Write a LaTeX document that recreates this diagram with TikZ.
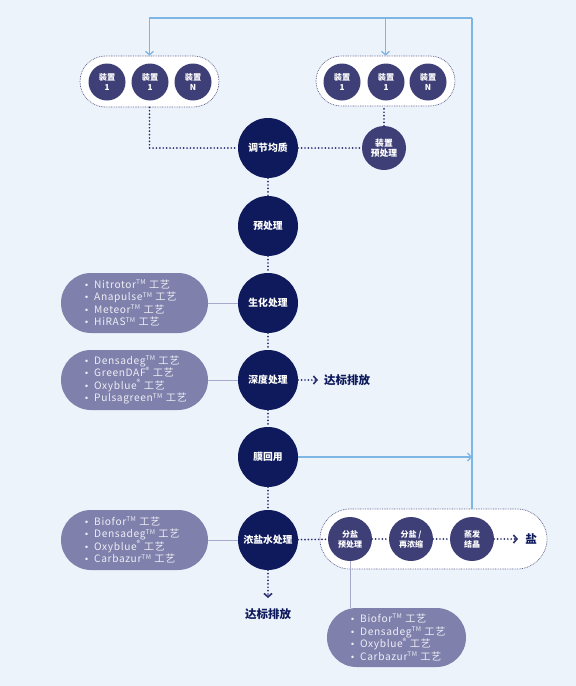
\documentclass[tikz,border=0pt]{standalone}
\usepackage{fontspec}
\setmainfont{Noto Sans CJK SC}
\newfontfamily\listfont[LetterSpace=6]{Noto Sans CJK SC}
\newfontfamily\dvfont{DejaVu Sans}
\usetikzlibrary{arrows.meta,shapes.misc,calc}
\definecolor{bg}{HTML}{EDF3FB}
\definecolor{navy}{HTML}{0E1A5B}
\definecolor{smallc}{HTML}{3F3F78}
\definecolor{pillc}{HTML}{7F80AB}
\definecolor{bluec}{HTML}{7DB5E5}
\definecolor{dotc}{HTML}{2A2F6E}
\definecolor{grpc}{HTML}{5A5E8C}
\definecolor{linkc}{HTML}{A9AACB}
\definecolor{listc}{HTML}{EEEEF6}
\newcommand{\bul}{{\dvfont\fontsize{8.5}{8}\selectfont •}\hspace{5pt}}
\newcommand{\tmk}{\textsuperscript{\fontsize{6.5}{6}\selectfont TM}}
\newcommand{\reg}{\textsuperscript{\fontsize{8}{7.5}\selectfont ®}}
\begin{document}
\begin{tikzpicture}[x=1pt,y=-1pt,
  mainc/.style={circle, fill=navy, minimum size=60pt, inner sep=0pt, text=white, font=\bfseries\fontsize{9.8}{11}\selectfont, align=center},
  smallc/.style={circle, fill=smallc, minimum size=37pt, inner sep=0pt, text=white, font=\bfseries\fontsize{8.2}{10}\selectfont, align=center},
  saltc/.style={circle, fill=smallc, minimum size=44pt, inner sep=0pt, text=white, font=\bfseries\fontsize{8}{10}\selectfont, align=center},
  grp/.style={rounded rectangle, draw=grpc, fill=white, line width=0.7pt, dash pattern=on 0.8pt off 0.9pt, inner sep=0pt},
  pill/.style={rounded rectangle, fill=pillc, minimum width=147pt, minimum height=60pt, inner sep=0pt},
  listtext/.style={anchor=west, text=listc, align=left, inner sep=0pt, font=\listfont\fontsize{10.2}{12.6}\selectfont},
  dots/.style={draw=dotc, line width=1.9pt, dash pattern=on 0pt off 3.4pt, line cap=round},
  chev/.style={-{Straight Barb[length=3.5pt,width=8pt,line width=1.6pt]}},
  bluel/.style={draw=bluec, line width=1.3pt},
  bluea/.style={-{Straight Barb[length=3.5pt,width=8pt,line width=1.3pt]}},
  link/.style={draw=linkc, line width=1pt},
  outtext/.style={text=navy, font=\bfseries\fontsize{11.5}{13}\selectfont, inner sep=0pt}
]
\path[fill=bg] (0,0) rectangle (576,686);

% group boxes
\node[grp, minimum width=139pt, minimum height=51pt] (g1) at (149.5,81.5) {};
\node[grp, minimum width=139pt, minimum height=50pt] (g2) at (385.5,81) {};
\node[grp, minimum width=227pt, minimum height=60pt] (sb) at (433.5,539) {};

% pills
\node[pill] (p1) at (134.5,303) {};
\node[pill] (p2) at (134.5,380) {};
\node[pill] (p3) at (134.5,540) {};
\node[pill, minimum width=139pt, minimum height=59pt] (p4) at (396.5,637.5) {};

% blue lines
\coordinate (tr) at (472,18);
\draw[bluel] (tr |- sb.north) -- (tr);
\draw[bluel,bluea] (tr) -| (g1.north);
\draw[bluel,bluea] (g2.north |- tr) -- (g2.north);

% main circles
\node[mainc] (c1) at (268,148) {调节均质};
\node[mainc] (c2) at (268,226) {预处理};
\node[mainc] (c3) at (268,303) {生化处理};
\node[mainc] (c4) at (268,380) {深度处理};
\node[mainc] (c5) at (268,457) {膜回用};
\node[mainc] (c6) at (268,540) {浓盐水处理};

\draw[bluel,bluea] (c5) -- (c5 -| tr);

% small circles
\node[smallc] (a1) at (107,82) {装置\\1};
\node[smallc] (a2) at (150,82) {装置\\1};
\node[smallc] (a3) at (193,82) {装置\\N};
\node[smallc] (b1) at (342,82) {装置\\1};
\node[smallc] (b2) at (386,82) {装置\\1};
\node[smallc] (b3) at (428,82) {装置\\N};
\node[smallc, minimum size=44pt, font=\bfseries\fontsize{8.8}{10.5}\selectfont] (d4) at (384,148) {装置\\预处理};

% salt chain
\node[saltc] (s1) at (350,539) {分盐\\预处理};
\node[saltc] (s2) at (411,539) {分盐 /\\再浓缩};
\node[saltc] (s3) at (472,539) {蒸发\\结晶};
\coordinate (sa) at (518,539);
\node[outtext] (salt) at (531,539) {盐};

% dotted connectors
\draw[dots] (g1.south) |- (c1);
\draw[dots] (c1) -- (d4);
\draw[dots] (d4) -- (d4 |- g2.south);
\draw[dots] (c1) -- (c2);
\draw[dots] (c2) -- (c3);
\draw[dots] (c3) -- (c4);
\draw[dots] (c4) -- (c5);
\draw[dots] (c5) -- (c6);
\draw[dots] (c6) -- (s1);
\draw[dots] (s1) -- (s2);
\draw[dots] (s2) -- (s3);
\draw[dots,chev] (s3) -- (sa);

\coordinate (e1) at (318,380);
\draw[dots,chev] (c4) -- (e1);
\node[outtext] (o1) at (347,380) {达标排放};
\coordinate (e2) at (268,598);
\draw[dots,chev] (c6) -- (e2);
\node[outtext] (o2) at (268,614) {达标排放};

% links to pills
\draw[link] (p1.east) -- (c3.west);
\draw[link] (p2.east) -- (c4.west);
\draw[link] (p3.east) -- (c6.west);
\draw[link] (s1.south) -- (s1.south |- p4.north);

% pill texts
\node[listtext] (t1) at (84,303) {\bul Nitrotor\tmk{} 工艺\\\bul Anapulse\tmk{} 工艺\\\bul Meteor\tmk{} 工艺\\\bul HiRAS\tmk{} 工艺};
\node[listtext] (t2) at (84,380) {\bul Densadeg\tmk{} 工艺\\\bul GreenDAF\reg{} 工艺\\\bul Oxyblue\reg{} 工艺\\\bul Pulsagreen\tmk{} 工艺};
\node[listtext] (t3) at (84,540) {\bul Biofor\tmk{} 工艺\\\bul Densadeg\tmk{} 工艺\\\bul Oxyblue\reg{} 工艺\\\bul Carbazur\tmk{} 工艺};
\node[listtext] (t4) at (350,637.5) {\bul Biofor\tmk{} 工艺\\\bul Densadeg\tmk{} 工艺\\\bul Oxyblue\reg{} 工艺\\\bul Carbazur\tmk{} 工艺};
\end{tikzpicture}
\end{document}
